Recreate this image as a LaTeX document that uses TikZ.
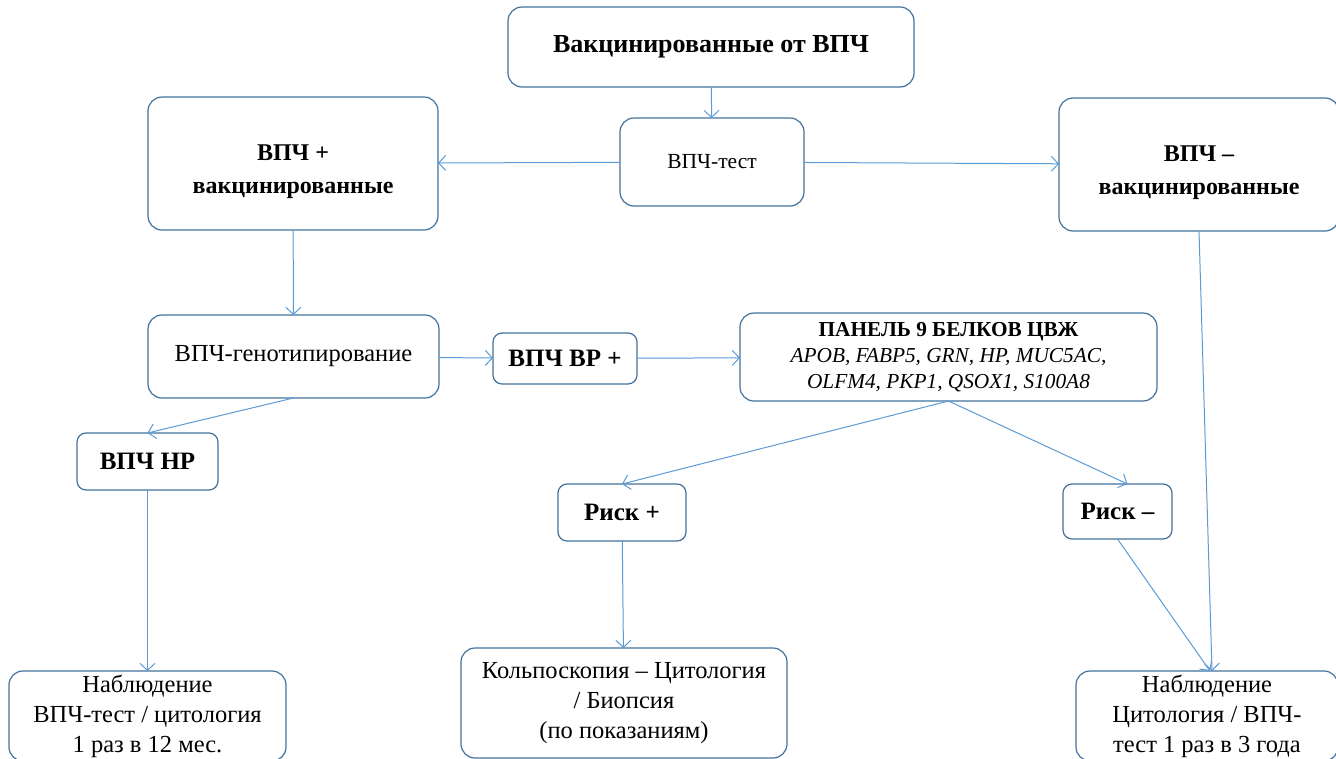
\documentclass[tikz,border=0pt]{standalone}
\usepackage{fontspec}
\setmainfont{Liberation Serif}
\usetikzlibrary{positioning,arrows.meta}
\definecolor{boxline}{RGB}{65,113,156}
\definecolor{arrline}{RGB}{91,155,213}

\begin{document}
\begin{tikzpicture}
[x=1pt,y=-1pt,
 every node/.style={draw=boxline,line width=1.2pt,rounded corners=14pt,align=center,inner sep=0pt,outer sep=0pt},
 txt/.style={font=\fontsize{24.5}{30}\selectfont},
 small/.style={font=\fontsize{21.5}{26}\selectfont},
 bld/.style={font=\fontsize{25}{30}\selectfont\bfseries},
 head/.style={font=\fontsize{26}{30}\selectfont\bfseries},
 two/.style={font=\fontsize{24}{33}\selectfont\bfseries,text height=66pt},
 panel/.style={font=\fontsize{21.3}{26}\selectfont},
 arr/.style={->,draw=arrline,line width=1pt},
 >={Straight Barb[length=7pt,width=15pt]}]
\useasboundingbox (0,0) rectangle (1336,758);

\node[head] (vacc)  at (711,47)      [minimum width=406pt,minimum height=80pt]  {Вакцинированные от ВПЧ};
\node[small] (test) at (712,162)     [minimum width=184pt,minimum height=88pt]  {ВПЧ-тест};
\node[two] (pos)    at (293,163.5)   [minimum width=290pt,minimum height=133pt] {ВПЧ +\\вакцинированные};
\node[two] (neg)    at (1199,164.5)  [minimum width=280pt,minimum height=133pt] {ВПЧ –\\вакцинированные};
\node[txt] (geno)   at (293.5,356.5) [minimum width=291pt,minimum height=83pt]  {ВПЧ-генотипирование};
\node[bld] (vr)     at (565,358.5)   [minimum width=144pt,minimum height=51pt,rounded corners=9pt] {ВПЧ ВР +};
\node[panel] (prot) at (948.5,357)   [minimum width=417pt,minimum height=88pt]
  {\textbf{ПАНЕЛЬ 9 БЕЛКОВ ЦВЖ}\\\textit{APOB, FABP5, GRN, HP, MUC5AC,}\\\textit{OLFM4, PKP1, QSOX1, S100A8}};
\node[bld] (nr)     at (147.5,461.5) [minimum width=141pt,minimum height=57pt,rounded corners=9pt] {ВПЧ НР};
\node[bld] (riskp)  at (622,512.5)   [minimum width=128pt,minimum height=57pt,rounded corners=9pt] {Риск +};
\node[bld] (riskm)  at (1117.5,511.5)[minimum width=109pt,minimum height=55pt,rounded corners=9pt] {Риск –};
\node[txt] (obsl)   at (147.5,716)   [minimum width=277pt,minimum height=90pt]  {Наблюдение\\ВПЧ-тест / цитология\\1 раз в 12 мес.};
\node[txt] (colpo)  at (624,703)     [minimum width=326pt,minimum height=110pt] {Кольпоскопия – Цитология\\/ Биопсия\\(по показаниям)};
\node[txt] (obsr)   at (1207,716)    [minimum width=262pt,minimum height=90pt]  {Наблюдение\\Цитология / ВПЧ-\\тест 1 раз в 3 года};

\path (vacc)  edge[arr] (test);
\path (test)  edge[arr] (pos);
\path (test)  edge[arr] (neg);
\path (pos)   edge[arr] (geno);
\path (geno)  edge[arr] (vr);
\path (vr)    edge[arr] (prot);
\path (geno.south) edge[arr] (nr.north);
\path (prot.south) edge[arr] (riskp.north);
\path (prot.south) edge[arr] ([xshift=10pt]riskm.north);
\path (nr)    edge[arr] (obsl);
\path (riskp) edge[arr] (colpo);
\path (riskm.south) edge[arr] ([xshift=3pt]obsr.north);
\path (neg.south)   edge[arr] ([xshift=5pt]obsr.north);
\end{tikzpicture}
\end{document}
